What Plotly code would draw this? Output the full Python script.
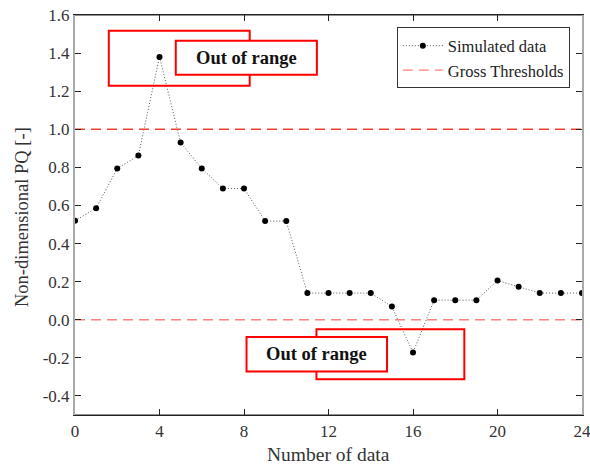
import plotly.graph_objects as go

# Simulated PQ series
sample_index = list(range(25))
pq_values = [0.52, 0.586, 0.794, 0.862, 1.38, 0.93, 0.794, 0.689, 0.689, 0.518, 0.518,
             0.14, 0.14, 0.14, 0.14, 0.069, -0.172, 0.103, 0.103, 0.103, 0.206, 0.173,
             0.14, 0.14, 0.14]
upper_threshold = 1.0
lower_threshold = 0.0

x_ticks = [0, 4, 8, 12, 16, 20, 24]
y_ticks = [-0.4, -0.2, 0.0, 0.2, 0.4, 0.6, 0.8, 1.0, 1.2, 1.4, 1.6]
y_tick_text = [f"{v:.1f}" for v in y_ticks]

FONT = "Liberation Serif, Times New Roman, serif"
TEXT_GREY = "#333333"

fig = go.Figure()

fig.add_trace(go.Scatter(
    x=sample_index, y=pq_values, mode="lines+markers", name="Simulated data",
    line=dict(color="#555555", width=1, dash="1px,2px"),
    marker=dict(color="black", size=6),
))
fig.add_trace(go.Scatter(
    x=[0, 24], y=[lower_threshold, lower_threshold], mode="lines", name="Gross Thresholds",
    line=dict(color="#ff8080", width=1.4, dash="10px,6px"),
))
fig.add_trace(go.Scatter(
    x=[0, 24], y=[upper_threshold, upper_threshold], mode="lines", showlegend=False,
    line=dict(color="#ee4433", width=1.4, dash="10px,6px"),
))

red = "#ff0000"
# Outer (unfilled) highlight frames
fig.add_shape(type="rect", x0=1.6, x1=8.27, y0=1.229, y1=1.5175,
              line=dict(color=red, width=2), fillcolor="rgba(0,0,0,0)", layer="above")
fig.add_shape(type="rect", x0=11.43, x1=18.43, y0=-0.312, y1=-0.05,
              line=dict(color=red, width=2), fillcolor="rgba(0,0,0,0)", layer="above")
# Label boxes drawn on top with white fill
fig.add_shape(type="rect", x0=4.77, x1=11.45, y0=1.286, y1=1.465,
              line=dict(color=red, width=2), fillcolor="white", layer="above")
fig.add_shape(type="rect", x0=8.12, x1=14.77, y0=-0.272, y1=-0.09,
              line=dict(color=red, width=2), fillcolor="white", layer="above")

fig.add_annotation(x=8.11, y=1.375, text="<b>Out of range</b>", showarrow=False,
                   font=dict(family=FONT, size=18.5, color="#111111"))
fig.add_annotation(x=11.45, y=-0.181, text="<b>Out of range</b>", showarrow=False,
                   font=dict(family=FONT, size=18.5, color="#111111"))

# Axis titles
fig.add_annotation(xref="paper", yref="paper", x=0.5, y=-0.13, yanchor="bottom",
                   text="Number of data", showarrow=False,
                   font=dict(family=FONT, size=19.5, color=TEXT_GREY))
fig.add_annotation(xref="paper", yref="paper", x=-0.1045, y=0.495, xanchor="center",
                   yanchor="middle", textangle=-90,
                   text="Non-dimensional PQ [-]", showarrow=False,
                   font=dict(family=FONT, size=18.5, color=TEXT_GREY))

axis_common = dict(showgrid=False, zeroline=False, ticks="inside", ticklen=6,
                   tickcolor="#222222", mirror="ticks", showline=True, automargin=False,
                   ticklabeloverflow="allow",
                   tickfont=dict(family=FONT, size=17, color=TEXT_GREY))

fig.update_xaxes(range=[0, 24], tickvals=x_ticks, linecolor="#222222", linewidth=1.2,
                 **axis_common)
fig.update_yaxes(range=[-0.5, 1.6], tickvals=y_ticks, ticktext=y_tick_text,
                 linecolor="#aaaaaa", linewidth=2, **axis_common)

# Top and bottom frame lines in black
fig.add_shape(type="line", xref="paper", yref="paper", x0=0, x1=1, y0=1, y1=1,
              line=dict(color="#222222", width=1.2))
fig.add_shape(type="line", xref="paper", yref="paper", x0=0, x1=1, y0=0, y1=0,
              line=dict(color="#222222", width=1.2))

fig.update_layout(
    width=590, height=468,
    margin=dict(l=75, r=8, t=15, b=53),
    plot_bgcolor="white", paper_bgcolor="white",
    font=dict(family=FONT, color="#222222"),
    legend=dict(x=0.976, y=0.969, xanchor="right", yanchor="top",
                bgcolor="white", bordercolor="#333333", borderwidth=1,
                font=dict(family=FONT, size=16.5, color="#222222"),
                tracegroupgap=0, itemwidth=40),
)

fig.write_html("out.html")
